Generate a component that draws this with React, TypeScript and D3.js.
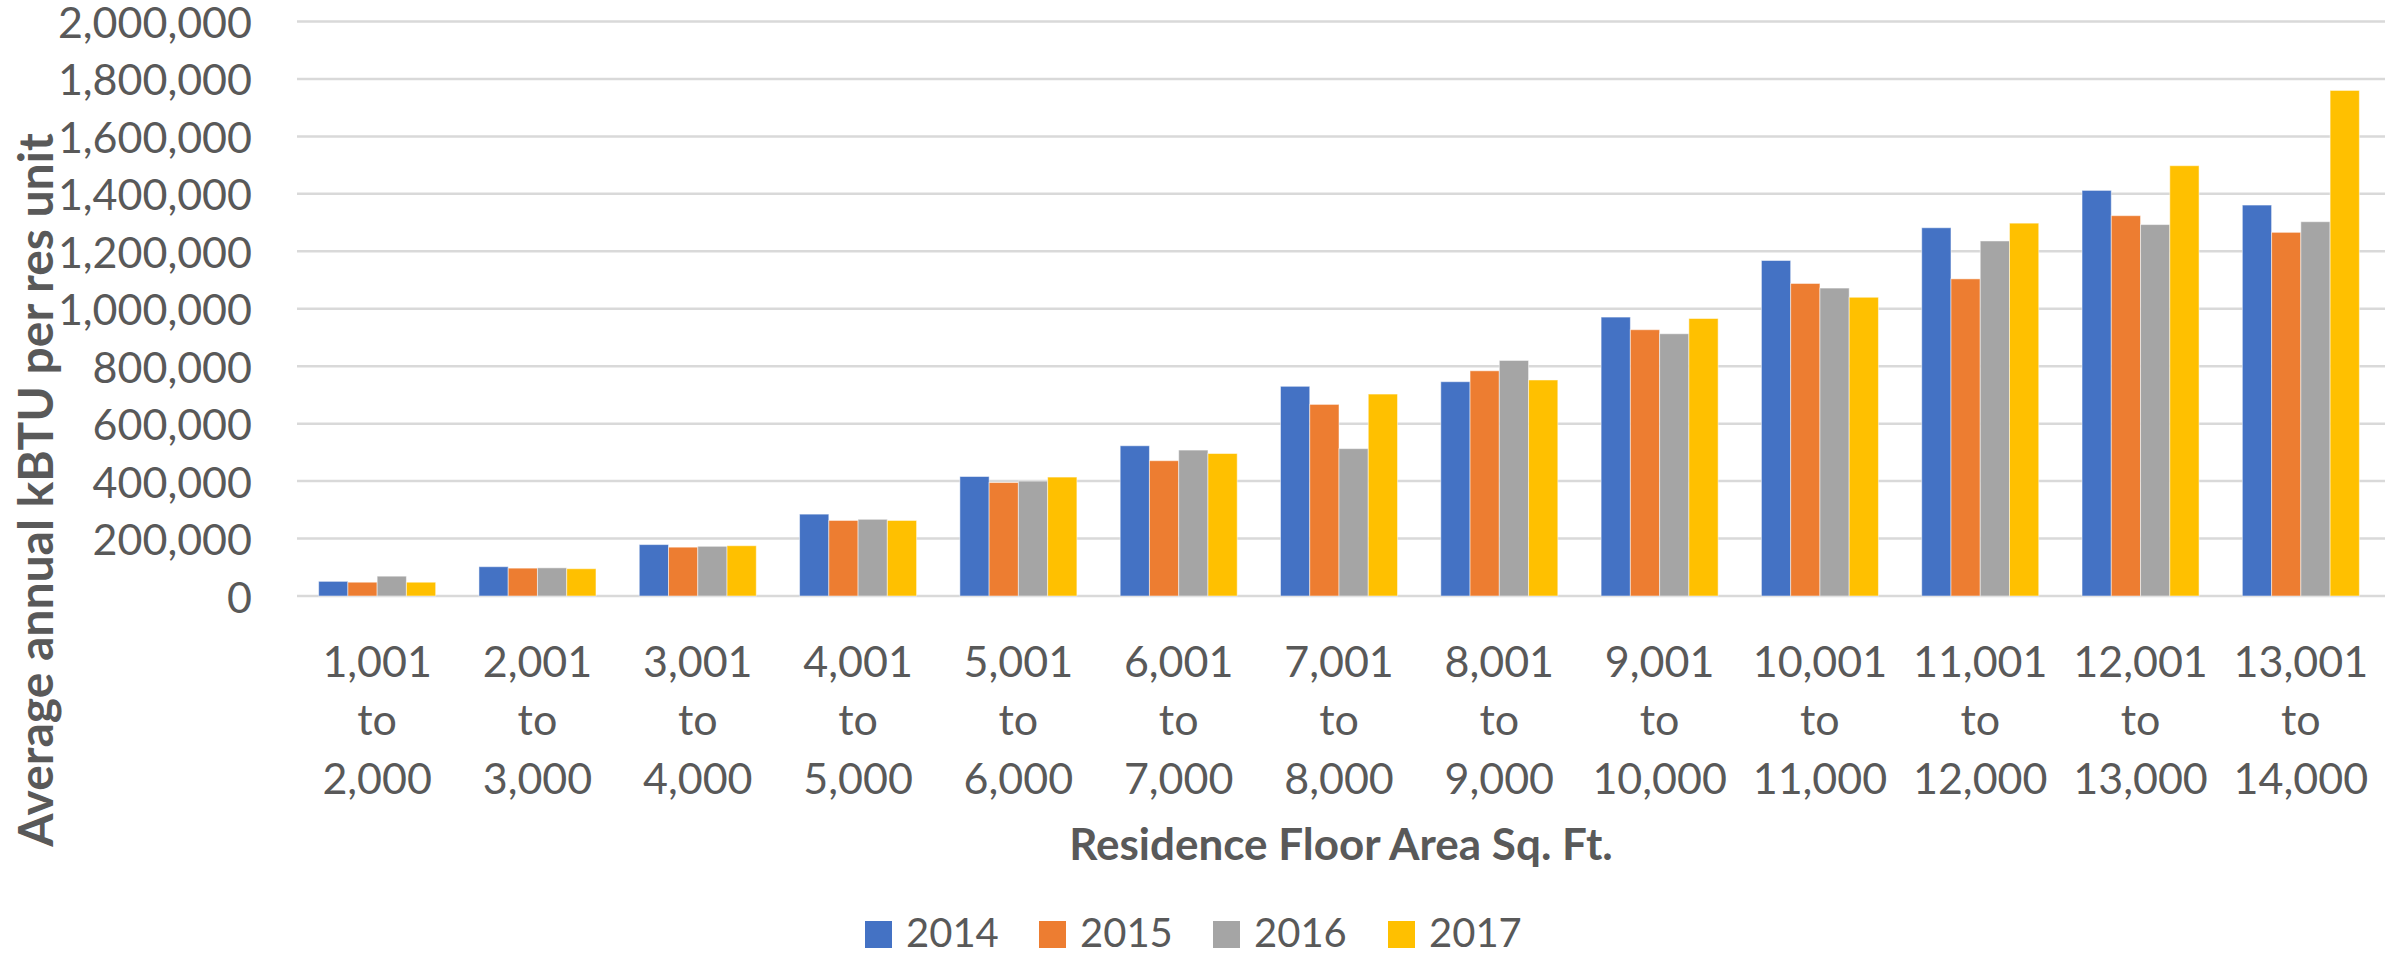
import React from "react";
import * as d3 from "d3";

// Floor-area bins (x categories) and survey years (series)
const categories = [
  "1,001 to 2,000",
  "2,001 to 3,000",
  "3,001 to 4,000",
  "4,001 to 5,000",
  "5,001 to 6,000",
  "6,001 to 7,000",
  "7,001 to 8,000",
  "8,001 to 9,000",
  "9,001 to 10,000",
  "10,001 to 11,000",
  "11,001 to 12,000",
  "12,001 to 13,000",
  "13,001 to 14,000",
];

const years = ["2014", "2015", "2016", "2017"];

// Average annual kBTU per residential unit
const values2014 = [51000, 102000, 179000, 285000, 416000, 523000, 730000, 746000, 971000, 1168000, 1282000, 1412000, 1361000];
const values2015 = [48000, 97000, 170000, 263000, 395000, 471000, 667000, 784000, 927000, 1088000, 1104000, 1324000, 1266000];
const values2016 = [69000, 98000, 173000, 267000, 400000, 508000, 513000, 820000, 913000, 1072000, 1236000, 1293000, 1303000];
const values2017 = [48000, 95000, 175000, 263000, 414000, 496000, 703000, 752000, 966000, 1040000, 1298000, 1498000, 1760000];

const yTicks = [0, 200000, 400000, 600000, 800000, 1000000, 1200000, 1400000, 1600000, 1800000, 2000000];

const seriesValues = [values2014, values2015, values2016, values2017];
const colors = ["#4472C4", "#ED7D31", "#A5A5A5", "#FFC000"];

const W = 2397;
const H = 957;
const FONT = "Lato, 'Open Sans', sans-serif";
const TEXT = "#595959";

export default function App() {
  const plotLeft = 297;
  const plotRight = 2381;
  const plotTop = 21.5;
  const plotBottom = 596;

  const y = d3.scaleLinear().domain([0, 2000000]).range([plotBottom, plotTop]);
  const x0 = d3
    .scaleBand<string>()
    .domain(categories)
    .range([plotLeft, plotRight])
    .paddingInner(0.27)
    .paddingOuter(0.135);
  const x1 = d3.scaleBand<string>().domain(years).range([0, x0.bandwidth()]);
  const fmt = d3.format(",");

  const legendX = [865, 1039, 1213, 1388];

  return (
    <svg
      width={W}
      height={H}
      style={{ position: "absolute", left: 0, top: 0, background: "#fff" }}
      fontFamily={FONT}
    >
      <rect x={0} y={0} width={W} height={H} fill="#fff" />

      {/* gridlines */}
      {yTicks.map((t) => (
        <line
          key={"g" + t}
          x1={plotLeft}
          x2={plotRight + 4}
          y1={y(t)}
          y2={y(t)}
          stroke="#d9d9d9"
          strokeWidth={2.5}
        />
      ))}

      {/* y tick labels */}
      {yTicks.map((t) => (
        <text
          key={"yl" + t}
          x={252}
          y={y(t)}
          textAnchor="end"
          dominantBaseline="central"
          fontSize={43}
          fill={TEXT}
        >
          {fmt(t)}
        </text>
      ))}

      {/* bars */}
      {categories.map((c, ci) => (
        <g key={c} transform={`translate(${x0(c)},0)`}>
          {years.map((yr, si) => {
            const v = seriesValues[si][ci];
            return (
              <rect
                key={yr}
                x={x1(yr)}
                y={y(v)}
                width={x1.bandwidth()}
                height={plotBottom - y(v)}
                fill={colors[si]}
                stroke="#ffffff"
                strokeOpacity={0.5}
                strokeWidth={1}
              />
            );
          })}
        </g>
      ))}

      {/* x category labels, three lines each */}
      {categories.map((c) => {
        const parts = c.split(" ");
        const cx = (x0(c) as number) + x0.bandwidth() / 2;
        return (
          <text key={"xl" + c} textAnchor="middle" fontSize={43} fill={TEXT} dominantBaseline="central">
            <tspan x={cx} y={660}>{parts[0]}</tspan>
            <tspan x={cx} y={718}>{parts[1]}</tspan>
            <tspan x={cx} y={777}>{parts[2]}</tspan>
          </text>
        );
      })}

      {/* axis titles */}
      <text
        x={1341}
        y={843}
        textAnchor="middle"
        dominantBaseline="central"
        fontSize={44}
        fontWeight="bold"
        fill={TEXT}
      >
        Residence Floor Area Sq. Ft.
      </text>
      <text
        transform="translate(34,490) rotate(-90)"
        textAnchor="middle"
        dominantBaseline="central"
        fontSize={48}
        fontWeight="bold"
        fill={TEXT}
      >
        Average annual kBTU per res unit
      </text>

      {/* legend */}
      {years.map((yr, i) => (
        <g key={"lg" + yr}>
          <rect x={legendX[i]} y={921} width={27} height={27} fill={colors[i]} />
          <text
            x={legendX[i] + 41}
            y={932}
            dominantBaseline="central"
            fontSize={40}
            fill={TEXT}
          >
            {yr}
          </text>
        </g>
      ))}
    </svg>
  );
}
